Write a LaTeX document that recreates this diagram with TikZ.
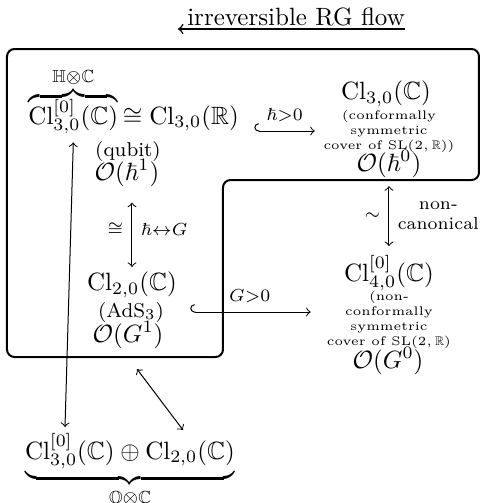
\documentclass[tikz,border=0pt]{standalone}
\usepackage{amsmath,amssymb}
\usetikzlibrary{positioning,arrows}

\begin{document}
\begin{tikzpicture}[
				x=0.4pt, y=-0.4pt,
				lbl/.style={font=\footnotesize},
				note/.style={align=center, font=\tiny},
				link/.style={<->},
				embed/.style={right hook->},
			]
			\path[use as bounding box] (0,0) rectangle (480,503);
			% RG flow direction
			\coordinate (flowR) at (405,29);
			\coordinate (flowL) at (178,29);
			\draw[->, semithick] (flowR) -- (flowL) node[pos=0.48, above, inner sep=1pt] {irreversible RG flow};
			% box around the quantum side
			\draw[thick, rounded corners=3pt] (7,49) -- (479,49) -- (479,180) -- (223,180) -- (223,357) -- (7,357) -- cycle;
			% left column
			\node[anchor=base west, inner xsep=0pt] (qbit) at (28,124) {$\overbrace{\mathrm{Cl}^{\smash{[0]}}_{3,0}(\mathbb{C})}^{\mathbb{H}\otimes\mathbb{C}}$};
			\node[base right=1.5pt of qbit, inner xsep=0pt] (clr) {$\cong \mathrm{Cl}_{3,0}(\mathbb{R})$};
			\node[lbl] (qubit) at (128,151) {(qubit)};
			\node (ohbar1) at (127,173) {$\mathcal{O}(\hbar^1)$};
			\node (cl20) at (132,285) {$\mathrm{Cl}_{2,0}(\mathbb{C})$};
			\node[lbl] (ads) at (131,312) {(AdS$_3$)};
			\node (og1) at (128,335) {$\mathcal{O}(G^1)$};
			% right column
			\node (clc) at (386,94) {$\mathrm{Cl}_{3,0}(\mathbb{C})$};
			\node[note] (confsym) at (389,131) {(conformally\\symmetric\\cover of $\mathrm{SL}(2,\mathbb{R})$)};
			\node (ohbar0) at (389,164) {$\mathcal{O}(\hbar^0)$};
			\node (cl40) at (389,273) {$\mathrm{Cl}^{[0]}_{4,0}(\mathbb{C})$};
			\node[note] (nonconf) at (389,320) {(non-\\conformally\\symmetric\\cover of $\mathrm{SL}(2,\mathbb{R})$};
			\node (og0) at (388,361) {$\mathcal{O}(G^0)$};
			% bottom
			\node[anchor=base] (sum) at (130,459) {$\underbrace{\mathrm{Cl}^{[0]}_{3,0}(\mathbb{C}) \oplus \mathrm{Cl}_{2,0}(\mathbb{C})}_{\mathbb{O}\otimes\mathbb{C}}$};
			\coordinate (sumL) at (65,427);
			\coordinate (sumR) at (183,430);
			% maps
			\draw[embed, shorten <=6pt] (clr.east |- confsym.west) -- (confsym.west) node[pos=0.6, above] {$\scriptstyle\hbar>0$};
			\draw[embed, shorten <=7pt, shorten >=3pt] (ads.east) -- (ads.east -| nonconf.west) node[pos=0.53, above] {$\scriptstyle G>0$};
			\draw[link, shorten <=3pt, shorten >=-1.5pt] (ohbar1.south -| cl20.north) -- (cl20.north) node[midway, left] {$\scriptstyle\cong$} node[midway, right] {$\scriptstyle\hbar\leftrightarrow G$};
			\draw[link] (ohbar0.south -| cl40.north) -- (cl40.north) node[midway, left] {$\scriptstyle\sim$} node[midway, right, font=\scriptsize, align=center] {non-\\canonical};
			\draw[link] (qbit.south) -- (sumL);
			\draw[link, shorten <=6pt] (og1.south) -- (sumR);
		\end{tikzpicture}
\end{document}
